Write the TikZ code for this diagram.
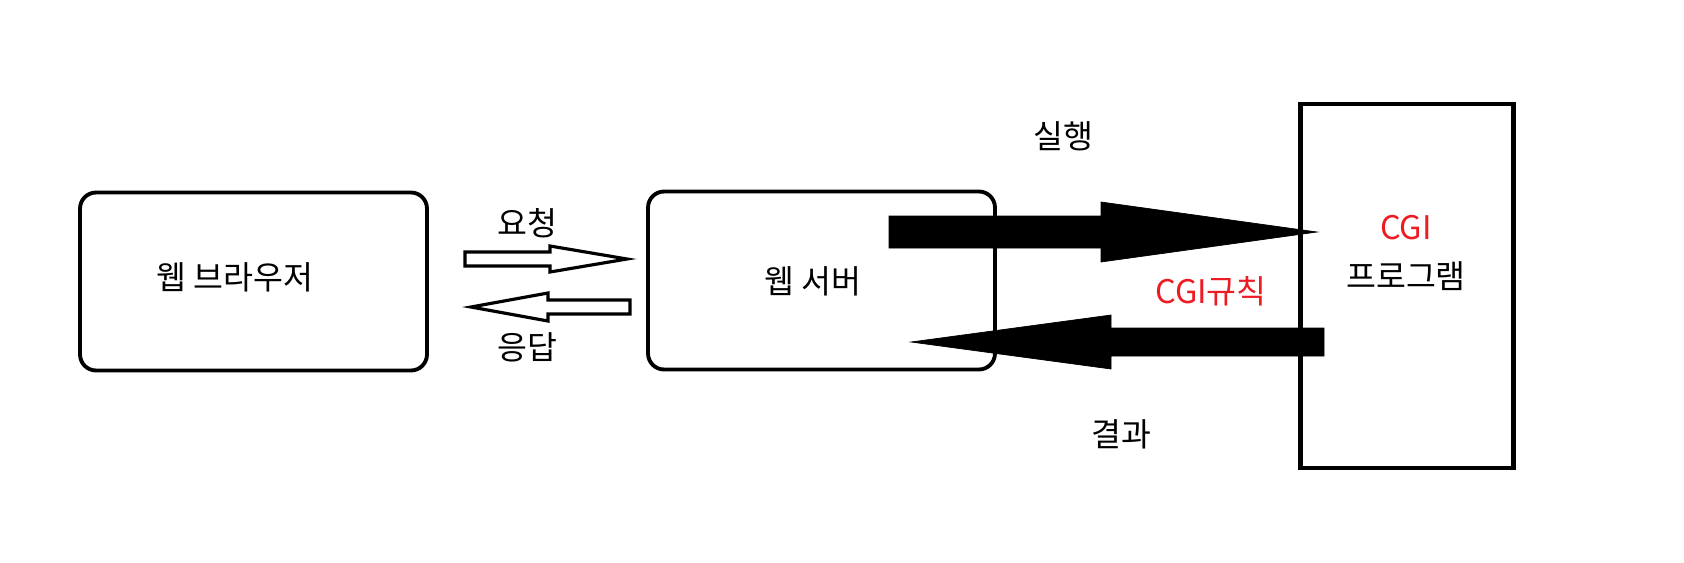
\documentclass[tikz,border=0pt]{standalone}
\usepackage{fontspec}
\setmainfont{Noto Sans CJK KR}
\usepackage{xcolor}
\usetikzlibrary{positioning, calc}

\definecolor{cgired}{RGB}{237,28,36}

\begin{document}
\begin{tikzpicture}[
        % one unit = one pixel of the 1684x562 canvas, y grows downward
        x=0.02cm, y=-0.02cm,
        every node/.style={font=\fontsize{18.5}{28}\selectfont},
        box/.style={draw, line width=2.2pt, rounded corners=0.32cm,
                    minimum width=6.94cm, minimum height=3.56cm},
        prog/.style={draw, line width=2.6pt,
                     minimum width=4.26cm, minimum height=7.28cm},
        hollowarrow/.style={draw, fill=white, line width=1.8pt, line join=miter},
        solidarrow/.style={fill=black, draw=black, line width=0.4pt},
        redlabel/.style={text=cgired}
    ]
    \useasboundingbox (0,0) rectangle (1684,562);

    % --- Boxes ---
    \node[box] (browser) at (253.5,281.5) {};
    \node (browserlabel) at (235,277) {웹 브라우저};
    \node[box] (server) at (821.5,280.5) {};
    \node (serverlabel) at (813,281) {웹 서버};
    \node[prog] (cgi) at (1407,286) {};
    \node[align=center] (cgilabel) at (1406,253)
        {\textcolor{cgired}{CGI}\\프로그램};

    % --- Arrow end points ---
    \coordinate (reqtail) at (465,259);
    \coordinate (reqbase) at (550,259);
    \coordinate (reqtip) at (627,259);
    \coordinate (restail) at (630,307);
    \coordinate (resbase) at (548,307);
    \coordinate (restip) at (471,307);
    \coordinate (runtail) at (889,232);
    \coordinate (runbase) at (1101,232);
    \coordinate (runtip) at (1317,232);
    \coordinate (rettail) at (1324,342);
    \coordinate (retbase) at (1111,342);
    \coordinate (rettip) at (911,342);

    % --- Arrows between browser and server ---
    \draw[hollowarrow] ($(reqtail)+(0,-7)$) -- ($(reqbase)+(0,-7)$)
        -- ($(reqbase)+(0,-13)$) -- (reqtip) -- ($(reqbase)+(0,13)$)
        -- ($(reqbase)+(0,7)$) -- ($(reqtail)+(0,7)$) -- cycle;
    \draw[hollowarrow] ($(restail)+(0,-7)$) -- ($(resbase)+(0,-7)$)
        -- ($(resbase)+(0,-14)$) -- (restip) -- ($(resbase)+(0,14)$)
        -- ($(resbase)+(0,7)$) -- ($(restail)+(0,7)$) -- cycle;

    % --- Arrows between server and CGI program ---
    \draw[solidarrow] ($(runtail)+(0,-16)$) -- ($(runbase)+(0,-16)$)
        -- ($(runbase)+(0,-30)$) -- (runtip) -- ($(runbase)+(0,30)$)
        -- ($(runbase)+(0,16)$) -- ($(runtail)+(0,16)$) -- cycle;
    \draw[solidarrow] ($(rettail)+(0,-14)$) -- ($(retbase)+(0,-14)$)
        -- ($(retbase)+(0,-27)$) -- (rettip) -- ($(retbase)+(0,27)$)
        -- ($(retbase)+(0,14)$) -- ($(rettail)+(0,14)$) -- cycle;

    % --- Labels ---
    \node (request) at (527,223) {요청};
    \node (response) at (527,347) {응답};
    \node (run) at (1063,136) {실행};
    \node (result) at (1121,434) {결과};
    \node[redlabel] (rule) at (1211,291) {CGI규칙};

\end{tikzpicture}
\end{document}
